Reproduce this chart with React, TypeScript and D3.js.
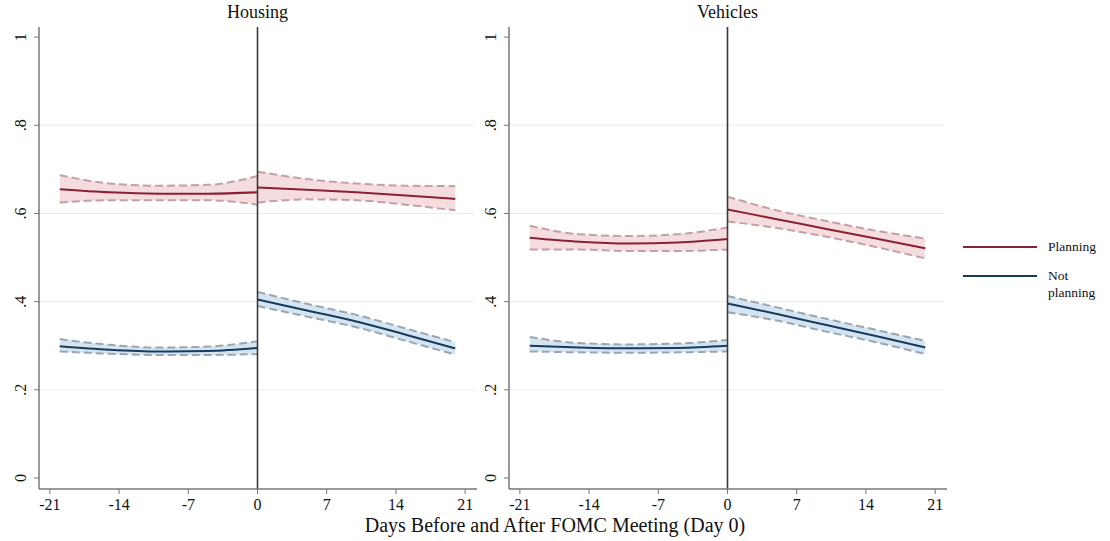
import { useEffect, useRef } from "react";
import * as d3 from "d3";

// days at which the fitted values were read (pre segment, then post segment)
const preDays = [-20, -15, -10, -5, 0];
const postDays = [0, 5, 10, 15, 20];

const panelTitles = ["Housing", "Vehicles"];
const seriesNames = ["Planning", "Not planning"];
const xTicks = [-21, -14, -7, 0, 7, 14, 21];
const yTicks = [0, 0.2, 0.4, 0.6, 0.8, 1];
const yTickLabels = ["0", ".2", ".4", ".6", ".8", "1"];

// Housing - Planning
const housingPlanPre = [0.655, 0.648, 0.645, 0.645, 0.648];
const housingPlanPreHi = [0.687, 0.668, 0.663, 0.665, 0.685];
const housingPlanPreLo = [0.625, 0.63, 0.63, 0.63, 0.62];
const housingPlanPost = [0.659, 0.654, 0.648, 0.641, 0.633];
const housingPlanPostHi = [0.695, 0.678, 0.668, 0.663, 0.662];
const housingPlanPostLo = [0.625, 0.632, 0.63, 0.62, 0.607];

// Housing - Not planning
const housingNotPre = [0.299, 0.291, 0.287, 0.288, 0.295];
const housingNotPreHi = [0.315, 0.302, 0.296, 0.298, 0.31];
const housingNotPreLo = [0.287, 0.282, 0.279, 0.279, 0.281];
const housingNotPost = [0.405, 0.38, 0.355, 0.325, 0.294];
const housingNotPostHi = [0.422, 0.395, 0.37, 0.339, 0.308];
const housingNotPostLo = [0.39, 0.366, 0.342, 0.311, 0.28];

// Vehicles - Planning
const vehiclesPlanPre = [0.545, 0.536, 0.532, 0.534, 0.542];
const vehiclesPlanPreHi = [0.572, 0.553, 0.549, 0.553, 0.568];
const vehiclesPlanPreLo = [0.518, 0.518, 0.515, 0.515, 0.518];
const vehiclesPlanPost = [0.609, 0.587, 0.565, 0.543, 0.521];
const vehiclesPlanPostHi = [0.638, 0.607, 0.583, 0.561, 0.543];
const vehiclesPlanPostLo = [0.582, 0.567, 0.547, 0.524, 0.498];

// Vehicles - Not planning
const vehiclesNotPre = [0.3, 0.296, 0.294, 0.295, 0.3];
const vehiclesNotPreHi = [0.32, 0.306, 0.303, 0.305, 0.313];
const vehiclesNotPreLo = [0.287, 0.285, 0.284, 0.285, 0.287];
const vehiclesNotPost = [0.396, 0.372, 0.347, 0.322, 0.296];
const vehiclesNotPostHi = [0.413, 0.387, 0.361, 0.336, 0.311];
const vehiclesNotPostLo = [0.376, 0.357, 0.332, 0.308, 0.281];

const panels = [
  [
    [
      [housingPlanPre, housingPlanPreLo, housingPlanPreHi],
      [housingPlanPost, housingPlanPostLo, housingPlanPostHi],
    ],
    [
      [housingNotPre, housingNotPreLo, housingNotPreHi],
      [housingNotPost, housingNotPostLo, housingNotPostHi],
    ],
  ],
  [
    [
      [vehiclesPlanPre, vehiclesPlanPreLo, vehiclesPlanPreHi],
      [vehiclesPlanPost, vehiclesPlanPostLo, vehiclesPlanPostHi],
    ],
    [
      [vehiclesNotPre, vehiclesNotPreLo, vehiclesNotPreHi],
      [vehiclesNotPost, vehiclesNotPostLo, vehiclesNotPostHi],
    ],
  ],
];

const lineColors = ["#8a2131", "#173b5e"];
const bandFills = ["#f3d6d9", "#cde0ef"];
const bandStrokes = ["#c4a0a5", "#9ba6b2"];
const FONT = "'Liberation Serif', 'DejaVu Serif', serif";

export default function App() {
  const ref = useRef<SVGSVGElement>(null);

  useEffect(() => {
    const svg = d3.select(ref.current);
    svg.selectAll("*").remove();

    const width = 1110;
    const height = 541;
    const plotTop = 27;
    const plotBottom = 489;
    const panelLeft = [39, 509];
    const panelWidth = 438;

    const y = d3.scaleLinear().domain([-0.025, 1.023]).range([plotBottom, plotTop]);

    panels.forEach((panel, p) => {
      const left = panelLeft[p];
      const x = d3.scaleLinear().domain([-22.1, 22.2]).range([left, left + panelWidth]);
      const g = svg.append("g");

      // grid lines
      [0.2, 0.4, 0.6, 0.8].forEach((t) => {
        g.append("line")
          .attr("x1", left)
          .attr("x2", left + panelWidth - 3)
          .attr("y1", y(t))
          .attr("y2", y(t))
          .attr("stroke", "#ebebeb")
          .attr("stroke-width", 1);
      });

      // title
      g.append("text")
        .attr("x", x(0))
        .attr("y", 18)
        .attr("text-anchor", "middle")
        .attr("font-family", FONT)
        .attr("font-size", 18)
        .attr("fill", "#111")
        .text(panelTitles[p]);

      // bands + lines
      panel.forEach((series, s) => {
        series.forEach((seg, k) => {
          const days = k === 0 ? preDays : postDays;
          const [est, lo, hi] = seg;
          const area = d3
            .area<number>()
            .x((d) => x(d))
            .y0((_, i) => y(lo[i]))
            .y1((_, i) => y(hi[i]))
            .curve(d3.curveMonotoneX);
          g.append("path")
            .attr("d", area(days))
            .attr("fill", bandFills[s])
            .attr("opacity", 0.85);

          [lo, hi].forEach((b) => {
            const bl = d3
              .line<number>()
              .x((d) => x(d))
              .y((_, i) => y(b[i]))
              .curve(d3.curveMonotoneX);
            g.append("path")
              .attr("d", bl(days))
              .attr("fill", "none")
              .attr("stroke", bandStrokes[s])
              .attr("stroke-width", 2)
              .attr("stroke-dasharray", "8,4");
          });

          const line = d3
            .line<number>()
            .x((d) => x(d))
            .y((_, i) => y(est[i]))
            .curve(d3.curveMonotoneX);
          g.append("path")
            .attr("d", line(days))
            .attr("fill", "none")
            .attr("stroke", lineColors[s])
            .attr("stroke-width", 2);
        });
      });

      // vertical line at day 0
      g.append("line")
        .attr("x1", x(0))
        .attr("x2", x(0))
        .attr("y1", plotTop)
        .attr("y2", plotBottom)
        .attr("stroke", "#3a3a3a")
        .attr("stroke-width", 1.6);

      // y axis
      g.append("line")
        .attr("x1", left)
        .attr("x2", left)
        .attr("y1", plotTop)
        .attr("y2", plotBottom)
        .attr("stroke", "#777")
        .attr("stroke-width", 1.5);
      yTicks.forEach((t, i) => {
        g.append("line")
          .attr("x1", left - 5)
          .attr("x2", left)
          .attr("y1", y(t))
          .attr("y2", y(t))
          .attr("stroke", "#777");
        g.append("text")
          .attr("transform", `translate(${left - 13},${y(t)}) rotate(-90)`)
          .attr("text-anchor", "middle")
          .attr("font-family", FONT)
          .attr("font-size", 16)
          .attr("fill", "#111")
          .text(yTickLabels[i]);
      });

      // x axis
      g.append("line")
        .attr("x1", left)
        .attr("x2", left + panelWidth)
        .attr("y1", plotBottom)
        .attr("y2", plotBottom)
        .attr("stroke", "#777")
        .attr("stroke-width", 1.5);
      xTicks.forEach((t) => {
        g.append("line")
          .attr("x1", x(t))
          .attr("x2", x(t))
          .attr("y1", plotBottom)
          .attr("y2", plotBottom + 5)
          .attr("stroke", "#777");
        g.append("text")
          .attr("x", x(t))
          .attr("y", plotBottom + 21)
          .attr("text-anchor", "middle")
          .attr("font-family", FONT)
          .attr("font-size", 16)
          .attr("fill", "#111")
          .text(t);
      });
    });

    // x axis title
    svg
      .append("text")
      .attr("x", width / 2)
      .attr("y", 532)
      .attr("text-anchor", "middle")
      .attr("font-family", FONT)
      .attr("font-size", 20)
      .attr("fill", "#111")
      .text("Days Before and After FOMC Meeting (Day 0)");

    // legend
    const legendY = [247, 276];
    seriesNames.forEach((name, i) => {
      svg
        .append("line")
        .attr("x1", 963)
        .attr("x2", 1037)
        .attr("y1", legendY[i])
        .attr("y2", legendY[i])
        .attr("stroke", lineColors[i])
        .attr("stroke-width", 2);
      const words = i === 0 ? [name] : ["Not", "planning"];
      words.forEach((w, j) => {
        svg
          .append("text")
          .attr("x", 1048)
          .attr("y", legendY[i] + 4 + j * 17)
          .attr("font-family", FONT)
          .attr("font-size", 13.5)
          .attr("fill", "#111")
          .text(w);
      });
    });

    svg.attr("width", width).attr("height", height);
  }, []);

  return (
    <svg
      ref={ref}
      width={1110}
      height={541}
      style={{ position: "absolute", left: 0, top: 0, background: "#fff" }}
    />
  );
}
